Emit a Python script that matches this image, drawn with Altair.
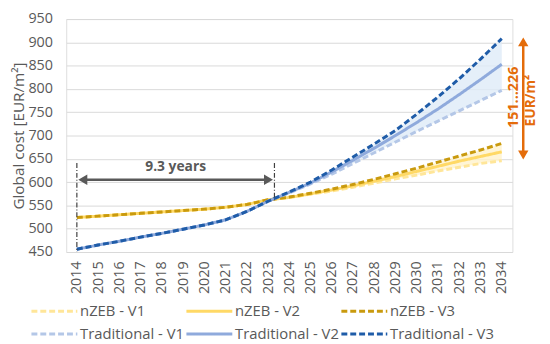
import altair as alt
import pandas as pd

years = list(range(2014, 2035))

nzeb_base = [524, 527, 530, 533, 536, 539, 542, 546, 552, 562]
nzeb_v1 = nzeb_base + [567, 574, 581, 589, 598, 607, 615, 624, 632, 640, 646]
nzeb_v2 = nzeb_base + [567, 575, 583, 592, 602, 612, 623, 634, 645, 655, 665]
nzeb_v3 = nzeb_base + [568, 576, 585, 595, 606, 618, 630, 643, 656, 669, 683]

trad_base = [456, 465, 473, 482, 490, 499, 508, 519, 537, 559]
trad_v1 = trad_base + [577, 596, 617, 640, 663, 686, 709, 731, 753, 775, 797]
trad_v2 = trad_base + [578, 598, 622, 647, 673, 700, 728, 757, 788, 820, 853]
trad_v3 = trad_base + [579, 600, 626, 654, 682, 711, 746, 783, 822, 864, 908]

series_names = ["nZEB - V1", "nZEB - V2", "nZEB - V3",
                "Traditional - V1", "Traditional - V2", "Traditional - V3"]
series_values = [nzeb_v1, nzeb_v2, nzeb_v3, trad_v1, trad_v2, trad_v3]
series_colors = ["#FFE699", "#FFD966", "#C99A0E", "#B4C7E7", "#8FAADC", "#1F5CA8"]
series_dash = [[6, 3], [1, 0], [6, 3], [6, 3], [1, 0], [6, 3]]

y_ticks = list(range(450, 951, 50))

rows = []
for i, (name, vals) in enumerate(zip(series_names, series_values)):
    for yr, v in zip(years, vals):
        rows.append({"year": yr, "cost": v, "series": name, "k": i})
df = pd.DataFrame(rows)

band_rows = []
for grp, lo, hi in [("nZEB", nzeb_v1, nzeb_v3), ("Traditional", trad_v1, trad_v3)]:
    for yr, a, b in zip(years, lo, hi):
        if yr >= 2023:
            band_rows.append({"year": yr, "cost": a, "hi": b, "grp": grp})
band_df = pd.DataFrame(band_rows)

FONT = "Open Sans"
GRAY = "#595959"
ORANGE = "#E46C0A"

xscale = alt.Scale(domain=[2013.5, 2034.5], nice=False, zero=False)
yscale = alt.Scale(domain=[450, 950], nice=False, zero=False)

xaxis = alt.Axis(values=years, format="d", labelAngle=270, grid=False, ticks=False,
                 domain=False, labelPadding=9, title=None, labelOverlap=False)
yaxis = alt.Axis(values=y_ticks, grid=True, ticks=False, domain=False, labelOverlap=False,
                 labelPadding=14, title="Global cost [EUR/m²]", titlePadding=1)


def X(field):
    return alt.X(field, type="quantitative", scale=xscale, axis=xaxis)


def Y(field):
    return alt.Y(field, type="quantitative", scale=yscale, axis=yaxis)


leg = alt.Legend(orient="none", legendX=-21, legendY=287, columns=3, direction="horizontal",
                 symbolType="M-3.1,0H3.1", symbolSize=225, symbolStrokeWidth=3, labelFontSize=15,
                 labelColor=GRAY, labelFont=FONT, columnPadding=-5, rowPadding=6, title=None,
                 padding=0, labelOffset=17, labelLimit=250, gridAlign="all")

band_n = alt.Chart(band_df).transform_filter(alt.datum.grp == "nZEB").mark_area(
    color="#FFF2CC", opacity=0.8).encode(x=X("year"), y=Y("cost"), y2="hi:Q")
band_t = alt.Chart(band_df).transform_filter(alt.datum.grp == "Traditional").mark_area(
    color="#DEEBF7", opacity=0.8).encode(x=X("year"), y=Y("cost"), y2="hi:Q")

lines = alt.Chart(df).mark_line(strokeWidth=3).encode(
    x=X("year"),
    y=Y("cost"),
    color=alt.Color("series:N", scale=alt.Scale(domain=series_names, range=series_colors), legend=leg),
    strokeDash=alt.StrokeDash("series:N", scale=alt.Scale(domain=series_names, range=series_dash), legend=leg),
    order="k:Q",
)

vlines_df = pd.DataFrame({"year": [2014, 2023.3], "cost": [641, 641], "y2": [450, 561]})
vlines = alt.Chart(vlines_df).mark_rule(color="#404040", strokeWidth=1.2, strokeDash=[5, 2, 1, 2]).encode(
    x=X("year"), y=Y("cost"), y2="y2:Q")

harrow_df = pd.DataFrame({"year": [2014.2], "x2": [2023.1], "cost": [605]})
harrow = alt.Chart(harrow_df).mark_rule(color=GRAY, strokeWidth=2.5).encode(
    x=X("year"), x2="x2:Q", y=Y("cost"))

heads_df = pd.DataFrame({"year": [2014.28, 2023.02], "cost": [605, 605],
                         "shape": ["triangle-left", "triangle-right"]})
heads = alt.Chart(heads_df).mark_point(filled=True, opacity=1, size=110, color=GRAY).encode(
    x=X("year"), y=Y("cost"), shape=alt.Shape("shape:N", scale=None))

label_df = pd.DataFrame({"year": [2018.65], "cost": [632], "t": ["9.3 years"]})
label = alt.Chart(label_df).mark_text(fontSize=14, fontWeight="bold", color=GRAY, font=FONT).encode(
    x=X("year"), y=Y("cost"), text="t:N")

oarrow_df = pd.DataFrame({"cost": [905], "y2": [655]})
oarrow = alt.Chart(oarrow_df).mark_rule(color=ORANGE, strokeWidth=2.5).encode(
    x=alt.value(463), y=Y("cost"), y2="y2:Q")

oheads_df = pd.DataFrame({"cost": [901, 658], "shape": ["triangle-up", "triangle-down"]})
oheads = alt.Chart(oheads_df).mark_point(filled=True, opacity=1, size=110, color=ORANGE).encode(
    x=alt.value(463), y=Y("cost"), shape=alt.Shape("shape:N", scale=None))

otext_df = pd.DataFrame({"cost": [782], "t": ["151...226"]})
otext = alt.Chart(otext_df).mark_text(angle=270, fontSize=14.5, fontWeight="bold", color=ORANGE,
                                      font=FONT, baseline="middle").encode(
    x=alt.value(454), y=Y("cost"), text="t:N")

otext2_df = pd.DataFrame({"cost": [775], "t": ["EUR/m²"]})
otext2 = alt.Chart(otext2_df).mark_text(angle=270, fontSize=14, fontWeight="bold", color=ORANGE,
                                        font=FONT, baseline="middle").encode(
    x=alt.value(471), y=Y("cost"), text="t:N")

chart = alt.layer(band_n, band_t, lines, vlines, harrow, heads, label, oarrow, oheads, otext, otext2).properties(
    width=452, height=236,
    autosize=alt.AutoSizeParams(type="none"),
    padding={"left": 59, "top": 9, "right": 30, "bottom": 91},
).configure_view(stroke=None).configure(font=FONT).configure_axis(
    labelFontSize=14.5, labelColor=GRAY, labelFont=FONT, titleFontSize=15.5, titleColor=GRAY,
    titleFont=FONT, titleFontWeight="normal", gridColor="#D9D9D9")

chart.save("out.html", embed_options={"renderer": "svg", "actions": False})
